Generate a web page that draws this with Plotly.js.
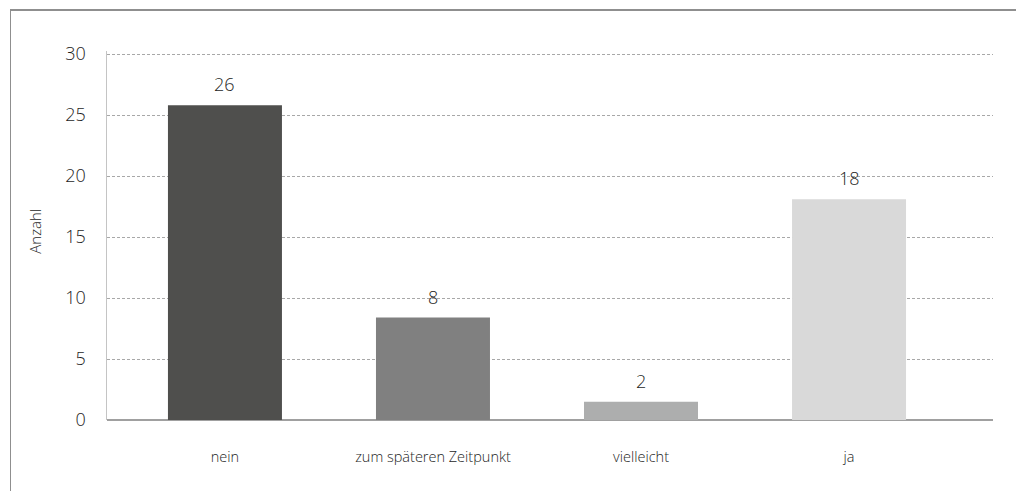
<!DOCTYPE html>
<html>
<head>
<meta charset="utf-8">
<script src="https://cdn.plot.ly/plotly-3.0.1.min.js"></script>
<style>
  html, body { margin: 0; padding: 0; background: #ffffff; }
  #wrap { position: relative; width: 1016px; height: 491px; overflow: hidden; }
  #chart { width: 1016px; height: 491px; }
  #frame { position: absolute; left: 10px; top: 9px; width: 1010px; height: 490px;
           border-top: 2px solid #8f8f8f; border-left: 1.5px solid #8f8f8f; pointer-events: none; }
</style>
</head>
<body>
<div id="wrap">
  <div id="chart"></div>
  <div id="frame"></div>
</div>
<script>
// Data
const categories = ["nein", "zum späteren Zeitpunkt", "vielleicht", "ja"];
const barValues = [25.8, 8.4, 1.5, 18.1];
const valueLabels = ["26", "8", "2", "18"];
const barColors = ["#4f4f4d", "#808080", "#adaeae", "#d9d9d9"];
const yTicks = [0, 5, 10, 15, 20, 25, 30];
const yTitle = "Anzahl";

const font = "'Open Sans', 'Noto Sans', sans-serif";
const txtColor = "#1e1e1e";

const trace = {
  type: "bar",
  x: categories,
  y: barValues,
  marker: { color: barColors, line: { width: 0 } },
  width: 0.548,
  hoverinfo: "x+y"
};

const annotations = categories.map((c, i) => ({
  x: c, y: barValues[i], xref: "x", yref: "y",
  text: valueLabels[i], showarrow: false,
  yanchor: "bottom", yshift: 7,
  font: { family: font, size: 18, color: txtColor, weight: 300 }
}));
annotations.push({
  xref: "paper", yref: "paper",
  x: -0.081, y: 0.511,
  text: yTitle, showarrow: false, textangle: -90,
  xanchor: "center", yanchor: "middle",
  font: { family: font, size: 15, color: txtColor, weight: 300 }
});

const layout = {
  width: 1016, height: 491,
  margin: { l: 107, r: 23, t: 51, b: 71, pad: 0 },
  paper_bgcolor: "#ffffff",
  plot_bgcolor: "#ffffff",
  showlegend: false,
  font: { family: font, color: txtColor },
  xaxis: {
    type: "category",
    range: [-0.567, 3.692],
    showgrid: false,
    zeroline: false,
    showline: false,
    ticks: "",
    ticklabelstandoff: 26,
    tickfont: { family: font, size: 14.5, color: txtColor, weight: 300 },
    fixedrange: true
  },
  yaxis: {
    range: [0, 30.25],
    tickvals: yTicks,
    ticktext: yTicks.map(String),
    showgrid: true,
    gridcolor: "#a8a8a8",
    griddash: "3px,2px",
    gridwidth: 1,
    zeroline: true,
    zerolinecolor: "#a0a0a0",
    zerolinewidth: 1.5,
    showline: true,
    linecolor: "#c4c4c4",
    linewidth: 1.5,
    ticks: "",
    ticklabelstandoff: 16,
    tickfont: { family: font, size: 18, color: txtColor, weight: 300 },
    fixedrange: true
  },
  annotations: annotations
};

Plotly.newPlot("chart", [trace], layout, { displayModeBar: false, staticPlot: true });
</script>
</body>
</html>
